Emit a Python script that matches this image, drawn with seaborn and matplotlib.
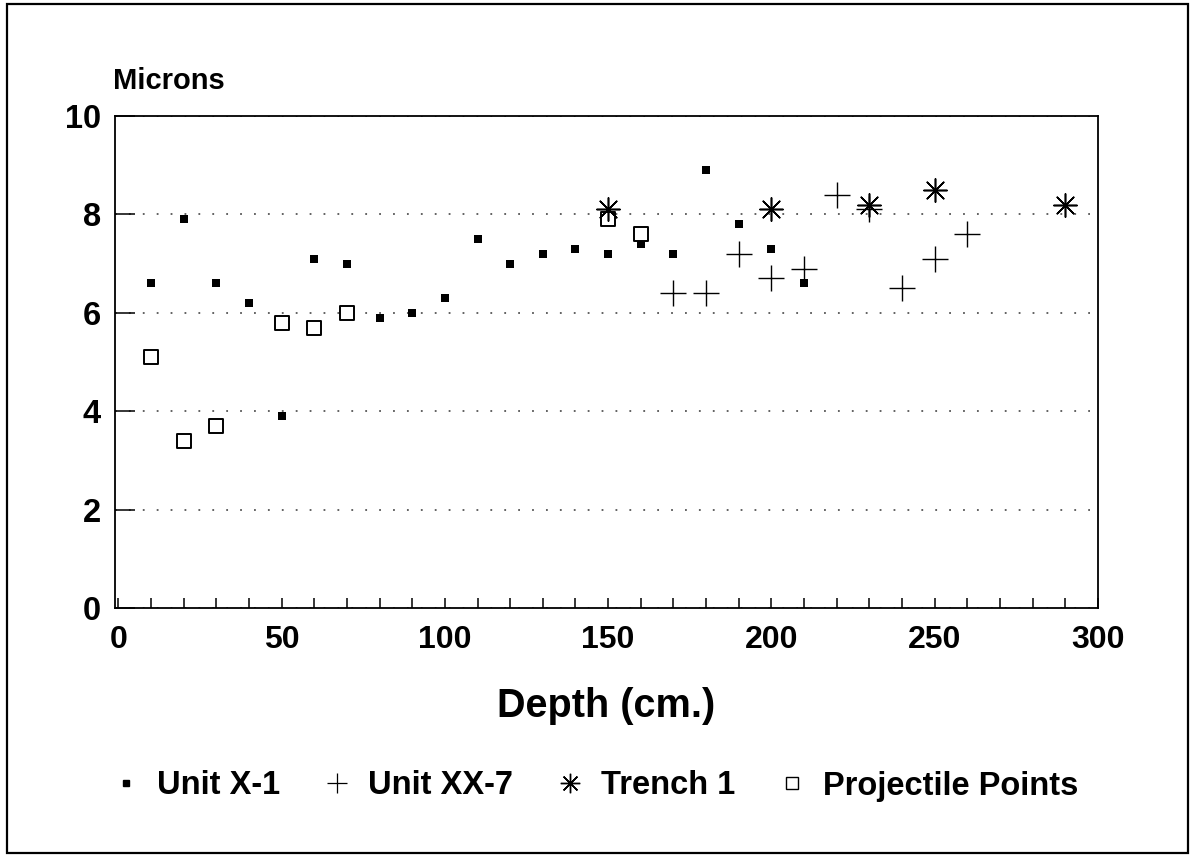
import matplotlib
matplotlib.use("Agg")
import matplotlib.pyplot as plt
from matplotlib.lines import Line2D
from matplotlib.patches import Rectangle
import seaborn as sns

# ---- data ----
unit_x1_depth = [10, 20, 30, 40, 50, 60, 70, 80, 90, 100, 110, 120, 130, 140,
                 150, 160, 170, 180, 190, 200, 210]
unit_x1_microns = [6.6, 7.9, 6.6, 6.2, 3.9, 7.1, 7.0, 5.9, 6.0, 6.3, 7.5, 7.0,
                   7.2, 7.3, 7.2, 7.4, 7.2, 8.9, 7.8, 7.3, 6.6]

unit_xx7_depth = [170, 180, 190, 200, 210, 220, 230, 240, 250, 260]
unit_xx7_microns = [6.4, 6.4, 7.2, 6.7, 6.9, 8.4, 8.1, 6.5, 7.1, 7.6]

trench1_depth = [150, 200, 230, 250, 290]
trench1_microns = [8.1, 8.1, 8.2, 8.5, 8.2]

proj_depth = [10, 20, 30, 50, 60, 70, 150, 160]
proj_microns = [5.1, 3.4, 3.7, 5.8, 5.7, 6.0, 7.9, 7.6]

series_labels = ["Unit X-1", "Unit XX-7", "Trench 1", "Projectile Points"]
x_ticks = [0, 50, 100, 150, 200, 250, 300]
y_ticks = [0, 2, 4, 6, 8, 10]

# ---- style ----
sns.set_style("white")
plt.rcParams["font.family"] = ["Liberation Sans", "DejaVu Sans"]
plt.rcParams["font.weight"] = "bold"
for k in ["text.color", "axes.labelcolor", "xtick.color", "ytick.color"]:
    plt.rcParams[k] = "black"

W, H = 1191, 857
fig = plt.figure(figsize=(W / 100, H / 100), dpi=100)
ax = fig.add_axes([115 / W, 1 - 608 / H, (1098 - 115) / W, (608 - 116) / H])

ASTER = (8, 2, 0)

sns.scatterplot(x=unit_x1_depth, y=unit_x1_microns, marker="s", color="black",
                s=34, linewidth=0, ax=ax, legend=False, zorder=3)
sns.scatterplot(x=unit_xx7_depth, y=unit_xx7_microns, marker="+", color="black",
                s=360, linewidth=1.0, ax=ax, legend=False, zorder=3)
sns.scatterplot(x=trench1_depth, y=trench1_microns, marker=ASTER, color="black",
                s=280, linewidth=1.15, ax=ax, legend=False, zorder=4)
sns.scatterplot(x=proj_depth, y=proj_microns, marker="s", color="white",
                edgecolor="black", s=90, linewidth=1.4, ax=ax, legend=False, zorder=3)

ax.set_xlim(-1, 300)
ax.set_ylim(0, 10)
ax.set_xticks(x_ticks)
ax.set_xticks(range(10, 300, 10), minor=True)
ax.set_yticks(y_ticks)
ax.tick_params(axis="x", which="both", bottom=True, top=False, direction="in",
               length=7.5, width=1.1, color="black", labelsize=23, pad=12)
ax.tick_params(axis="y", which="major", left=True, right=False, direction="in",
               length=14.5, width=1.1, color="black", labelsize=23.5, pad=10)
for lab in ax.get_xticklabels() + ax.get_yticklabels():
    lab.set_fontweight("bold")

for sp in ax.spines.values():
    sp.set_visible(True)
    sp.set_color("black")
    sp.set_linewidth(1.3)

ax.yaxis.grid(True, linestyle=(0, (1, 6.7)), color="#555555", linewidth=1.3)
ax.xaxis.grid(False)
ax.set_axisbelow(True)

ax.set_xlabel("Depth (cm.)", fontsize=28.5, fontweight="bold")
ax.xaxis.set_label_coords(0.5, (608 - 717) / (608 - 116))
ax.xaxis.label.set_va("baseline")

fig.text(113 / W, 1 - 89 / H, "Microns", fontsize=21, fontweight="bold",
         ha="left", va="baseline")

handles = [
    Line2D([], [], marker="s", color="black", ms=5, ls="none"),
    Line2D([], [], marker="+", color="black", ms=15, mew=0.9, ls="none"),
    Line2D([], [], marker=ASTER, color="black", ms=14, mew=1.0, ls="none"),
    Line2D([], [], marker="s", mfc="white", mec="black", ms=8, mew=1.0, ls="none"),
]
fig.legend(handles, series_labels, loc="center", ncol=4, frameon=False,
           bbox_to_anchor=(595 / W, 1 - 786 / H),
           prop={"weight": "bold", "size": 23.5},
           handlelength=0.9, handletextpad=0.5, columnspacing=1.3)

# outer frame
fig.patches.append(Rectangle((7 / W, 1 - 853 / H), (1188 - 7) / W, (853 - 4) / H,
                             transform=fig.transFigure, fill=False,
                             edgecolor="black", linewidth=1.6))

fig.savefig("out.png", dpi=100)
